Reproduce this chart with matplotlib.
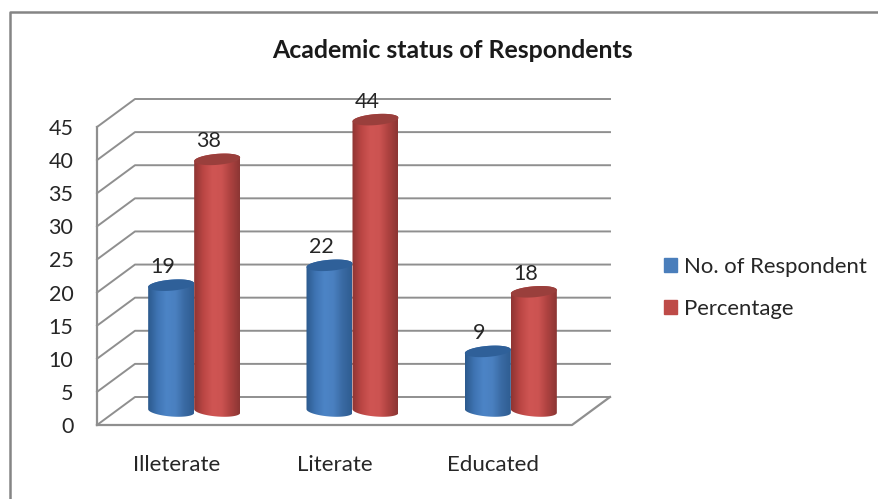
import numpy as np
import matplotlib
matplotlib.use('Agg')
import matplotlib.pyplot as plt
from matplotlib.colors import LinearSegmentedColormap
from matplotlib.lines import Line2D
from matplotlib.patches import Patch, Polygon

categories = ['Illeterate', 'Literate', 'Educated']
respondents = [19, 22, 9]
percentage = [38, 44, 18]
yticks = [0, 5, 10, 15, 20, 25, 30, 35, 40, 45]

plt.rcParams['font.family'] = ['Lato', 'DejaVu Sans']
TEXT = '#262626'
GRID = '#8f8f8f'

W, H = 879, 499
fig = plt.figure(figsize=(W / 100, H / 100), dpi=100)
ax = fig.add_axes([97 / W, 1 - 425 / H, 475 / W, 298 / H])
ax.set_xlim(0, 3)
ax.set_ylim(0, 45)

# pixel sizes turned into data units for the oblique depth
px_x = 3 / 475
px_y = 45 / 298
depth_x = 38 * px_x
depth_y = 28 * px_y

for _, v in ax.spines.items():
    v.set_visible(False)
ax.set_xticks([0.5, 1.5, 2.5], categories)
ax.set_yticks(yticks)
ax.tick_params(axis='x', length=0, pad=21.5, labelsize=16, labelcolor=TEXT)
ax.tick_params(axis='y', length=0, pad=17, labelsize=15.5, labelcolor=TEXT)

# walls and floor
for t in yticks:
    ax.plot([0, depth_x, 3 + depth_x], [t, t + depth_y, t + depth_y],
            color=GRID, lw=1.4, clip_on=False, zorder=1)
ax.plot([0, 0], [0, 45], color=GRID, lw=1.6, clip_on=False, zorder=1)
ax.plot([0, 3, 3 + depth_x], [0, 0, depth_y], color=GRID, lw=1.6,
        clip_on=False, zorder=1)

blue_cmap = LinearSegmentedColormap.from_list(
    'blue', ['#2c5a8e', '#3f74b3', '#4c84c6', '#4a80c0', '#3a6aa3', '#2f5d92'])
red_cmap = LinearSegmentedColormap.from_list(
    'red', ['#8f3533', '#bb4644', '#cf5553', '#cc5351', '#ad4240', '#8c3634'])
ramp = np.linspace(0, 1, 64).reshape(1, -1)


def cylinder(cx, value, cmap, cap):
    rx = 23 * px_x
    ry = 5.5 * px_y
    tilt = 1.8 * px_y
    cy = depth_y / 2
    t = np.linspace(0, np.pi, 40)
    # lower rim of the base, upper rim of the top
    low_x = cx - rx * np.cos(t)
    low_y = cy - ry * np.sin(t) + tilt * np.cos(t)
    top_x = cx + rx * np.cos(t)
    top_y = value + cy + ry * np.sin(t) + tilt * np.cos(t)
    body = np.column_stack([np.r_[low_x, top_x], np.r_[low_y, top_y]])

    im = ax.imshow(ramp, cmap=cmap, aspect='auto', zorder=3,
                   extent=[cx - rx, cx + rx, 0, 50])
    # the tallest bar rises above the front plane, so clip to the shape only
    im.set_clip_box(fig.bbox)
    im.set_clip_path(Polygon(body, transform=ax.transData))

    a = np.linspace(0, 2 * np.pi, 80)
    cap_x = cx + rx * np.cos(a)
    cap_y = value + cy + ry * np.sin(a) + tilt * np.cos(a)
    ax.fill(cap_x, cap_y, color=cap, lw=0, zorder=4, clip_on=False)

    ax.annotate(str(value), (cx, value + cy), xytext=(-6.2, 13),
                textcoords='offset points', ha='center', va='center',
                fontsize=15.5, color=TEXT, zorder=5, annotation_clip=False)


for i in range(len(categories)):
    center = i + 0.5 + depth_x / 2 - px_x
    cylinder(center - 23 * px_x, respondents[i], blue_cmap, '#2f6099')
    cylinder(center + 23 * px_x, percentage[i], red_cmap, '#9a3f3c')

ax.set_xlim(0, 3)
ax.set_ylim(0, 45)

handles = [Patch(color='#4a7ebb', label='No. of Respondent'),
           Patch(color='#be4b48', label='Percentage')]
fig.legend(handles=handles, loc='upper left',
           bbox_to_anchor=(664 / W, 1 - 257 / H), frameon=False, fontsize=15.9,
           labelcolor=TEXT, handlelength=0.6, handleheight=0.6,
           handletextpad=0.32, labelspacing=0.98, borderpad=0, borderaxespad=0)

fig.text(452 / W, 1 - 51 / H, 'Academic status of Respondents', ha='center',
         va='center', fontsize=17.9, fontweight='bold', color='#1a1a1a')

# outer frame, open towards the right and bottom
fig.add_artist(Line2D([9.5 / W, 9.5 / W, 1], [0, 1 - 12 / H, 1 - 12 / H],
                      color='#858585', lw=1.8))

fig.savefig('out.png', dpi=100)
